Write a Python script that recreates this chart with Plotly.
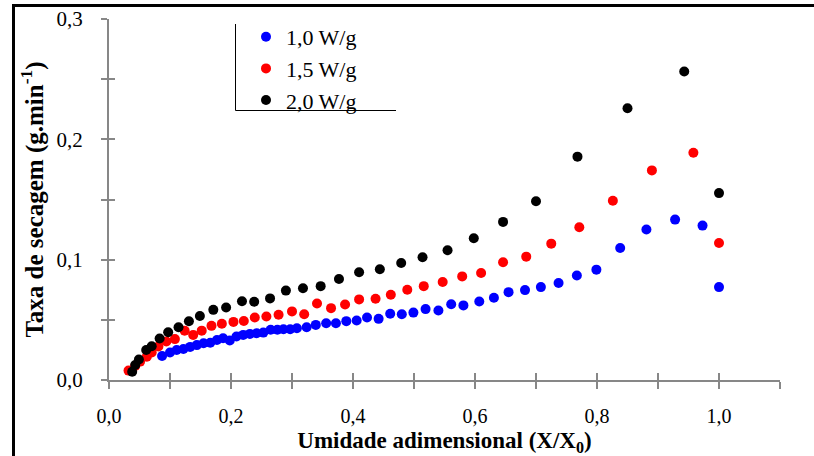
import plotly.graph_objects as go

# ---- data ----
x_10 = [0.087, 0.100, 0.111, 0.122, 0.133, 0.144, 0.155, 0.166, 0.177, 0.187, 0.198, 0.209,
        0.220, 0.231, 0.242, 0.253, 0.265, 0.276, 0.286, 0.297, 0.308, 0.324, 0.339, 0.356,
        0.372, 0.389, 0.406, 0.423, 0.442, 0.461, 0.480, 0.499, 0.519, 0.540, 0.561, 0.581,
        0.607, 0.631, 0.655, 0.682, 0.708, 0.737, 0.767, 0.799, 0.838, 0.881, 0.928, 0.973, 1.000]
y_10 = [0.0200, 0.0228, 0.0250, 0.0258, 0.0275, 0.0290, 0.0306, 0.0310, 0.0333, 0.0347, 0.0328, 0.0361,
        0.0375, 0.0383, 0.0389, 0.0394, 0.0417, 0.0417, 0.0422, 0.0422, 0.0430, 0.0439, 0.0458, 0.0472,
        0.0472, 0.0489, 0.0494, 0.0519, 0.0508, 0.0550, 0.0547, 0.0560, 0.0589, 0.0578, 0.0630, 0.0620,
        0.0653, 0.0683, 0.0730, 0.0747, 0.0772, 0.0806, 0.0869, 0.0917, 0.1097, 0.1250, 0.1333, 0.1283, 0.0772]

x_15 = [0.032, 0.043, 0.051, 0.062, 0.070, 0.081, 0.094, 0.108, 0.124, 0.138, 0.152, 0.168, 0.185,
        0.204, 0.221, 0.239, 0.258, 0.278, 0.300, 0.320, 0.341, 0.364, 0.387, 0.410, 0.437, 0.462,
        0.489, 0.516, 0.547, 0.579, 0.610, 0.646, 0.684, 0.725, 0.771, 0.826, 0.890, 0.958, 1.000]
y_15 = [0.0078, 0.0117, 0.0153, 0.0194, 0.0228, 0.0278, 0.0320, 0.0340, 0.0410, 0.0375, 0.0410, 0.0450, 0.0467,
        0.0483, 0.0490, 0.0520, 0.0528, 0.0542, 0.0570, 0.0547, 0.0636, 0.0597, 0.0628, 0.0670, 0.0675, 0.0708,
        0.0750, 0.0780, 0.0815, 0.0861, 0.0889, 0.0978, 0.1025, 0.1133, 0.1270, 0.1490, 0.1742, 0.1889, 0.1139]

x_20 = [0.038, 0.043, 0.049, 0.061, 0.070, 0.083, 0.097, 0.114, 0.131, 0.149, 0.171, 0.192, 0.218,
        0.238, 0.264, 0.290, 0.318, 0.347, 0.377, 0.410, 0.444, 0.479, 0.514, 0.555, 0.598, 0.646,
        0.700, 0.768, 0.850, 0.943, 1.000]
y_20 = [0.0069, 0.0125, 0.0170, 0.0250, 0.0280, 0.0345, 0.0397, 0.0439, 0.0488, 0.0532, 0.0583, 0.0603, 0.0655,
        0.0650, 0.0678, 0.0743, 0.0762, 0.0780, 0.0839, 0.0895, 0.0920, 0.0972, 0.1020, 0.1078, 0.1178, 0.1314,
        0.1486, 0.1856, 0.2258, 0.2564, 0.1553]

series_names = ["1,0 W/g", "1,5 W/g", "2,0 W/g"]
series_colors = ["#0000FF", "#FF0000", "#000000"]

x_label_vals = [0.0, 0.2, 0.4, 0.6, 0.8, 1.0]
x_label_text = ["0,0", "0,2", "0,4", "0,6", "0,8", "1,0"]
x_all_ticks = [0.0, 0.1, 0.2, 0.3, 0.4, 0.5, 0.6, 0.7, 0.8, 0.9, 1.0, 1.1]
y_label_vals = [0.0, 0.1, 0.2, 0.3]
y_label_text = ["0,0", "0,1", "0,2", "0,3"]
y_all_ticks = [0.0, 0.05, 0.1, 0.15, 0.2, 0.25, 0.3]

FONT = "Liberation Serif"
AX = "#878787"

fig = go.Figure()
for xs, ys, nm, col in zip([x_10, x_15, x_20], [y_10, y_15, y_20], series_names, series_colors):
    fig.add_trace(go.Scatter(x=xs, y=ys, mode="markers", name=nm,
                             marker=dict(color=col, size=10, line=dict(width=0))))

# invisible overlay trace so the overlay axes draw their crossing ticks
fig.add_trace(go.Scatter(x=[0], y=[0], xaxis="x2", yaxis="y2", mode="markers",
                         marker=dict(opacity=0), showlegend=False, hoverinfo="skip"))

L, R, T, B = 109, 34, 19, 76
W, H = 814, 456
pw, ph = W - L - R, H - T - B

def px2x(p):
    return (p - L) / pw

def py2y(p):
    return (H - B - p) / ph

fig.update_layout(
    width=W, height=H,
    margin=dict(l=L, r=R, t=T, b=B, autoexpand=False),
    paper_bgcolor="white", plot_bgcolor="white",
    font=dict(family=FONT, size=20, color="black"),
    showlegend=True,
    legend=dict(x=px2x(246), y=py2y(16), xanchor="left", yanchor="top",
                bgcolor="rgba(0,0,0,0)", borderwidth=0,
                font=dict(family=FONT, size=22, color="black"),
                tracegroupgap=0),
    xaxis=dict(range=[0, 1.1], tickvals=x_label_vals, ticktext=x_label_text, automargin=False,
               showgrid=False, zeroline=False, showline=True, linecolor=AX, linewidth=2,
               ticks="outside", ticklen=7, tickwidth=1.5, tickcolor=AX,
               minor=dict(tickvals=x_all_ticks, ticks="outside", ticklen=7, tickwidth=1.5,
                          tickcolor=AX, showgrid=False),
               ticklabelstandoff=10,
               tickfont=dict(family=FONT, size=20, color="black"),
               title=dict(text="<b>Umidade adimensional (X/X<sub>0</sub>)</b>", standoff=6,
                          font=dict(family=FONT, size=23, color="black"))),
    yaxis=dict(range=[0, 0.3], tickvals=y_label_vals, ticktext=y_label_text, automargin=False,
               showgrid=False, zeroline=False, showline=True, linecolor=AX, linewidth=2,
               ticks="outside", ticklen=6, tickwidth=1.5, tickcolor=AX,
               minor=dict(tickvals=y_all_ticks, ticks="outside", ticklen=6, tickwidth=1.5,
                          tickcolor=AX, showgrid=False),
               ticklabelstandoff=14,
               tickfont=dict(family=FONT, size=21, color="black"),
               title=dict(text="<b>Taxa de secagem (g.min<sup>-1</sup>)</b>", standoff=6,
                          font=dict(family=FONT, size=25, color="black"))),
    xaxis2=dict(overlaying="x", matches="x", anchor="y2", tickvals=x_all_ticks, automargin=False,
                showticklabels=False, showgrid=False, zeroline=False, showline=False,
                ticks="inside", ticklen=7, tickwidth=1.5, tickcolor=AX),
    yaxis2=dict(overlaying="y", matches="y", anchor="x2", tickvals=y_all_ticks, automargin=False,
                showticklabels=False, showgrid=False, zeroline=False, showline=False,
                ticks="inside", ticklen=6, tickwidth=1.5, tickcolor=AX),
    shapes=[
        # outer frame
        dict(type="rect", xref="paper", yref="paper",
             x0=px2x(13.5), x1=px2x(830), y0=py2y(475), y1=py2y(5.5),
             line=dict(color="black", width=3), fillcolor="rgba(0,0,0,0)", layer="above"),
        # legend frame (left and bottom lines)
        dict(type="line", xref="paper", yref="paper",
             x0=px2x(235.5), x1=px2x(235.5), y0=py2y(24), y1=py2y(110.5),
             line=dict(color="black", width=1)),
        dict(type="line", xref="paper", yref="paper",
             x0=px2x(235.5), x1=px2x(396), y0=py2y(110.5), y1=py2y(110.5),
             line=dict(color="black", width=1)),
    ],
)

fig.write_html("out.html")
